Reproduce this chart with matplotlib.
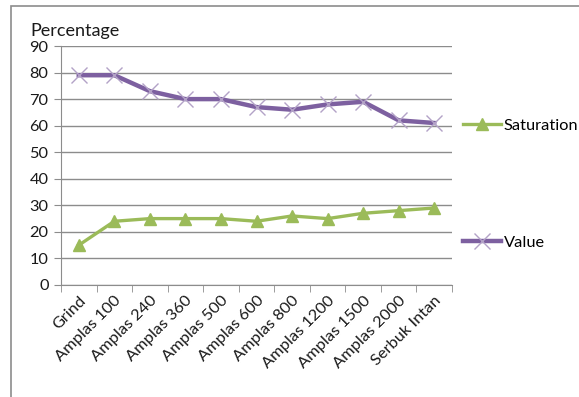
import numpy as np
import matplotlib.pyplot as plt
from matplotlib.patches import Rectangle
from matplotlib.ticker import MultipleLocator

plt.rcParams['font.family'] = ['Lato', 'DejaVu Sans']

# data
labels = ['Grind', 'Amplas 100', 'Amplas 240', 'Amplas 360', 'Amplas 500', 'Amplas 600',
          'Amplas 800', 'Amplas 1200', 'Amplas 1500', 'Amplas 2000', 'Serbuk Intan']
saturation = [15, 24, 25, 25, 25, 24, 26, 25, 27, 28, 29]
value = [79, 79, 73, 70, 70, 67, 66, 68, 69, 62, 61]

fig = plt.figure(figsize=(5.79, 3.97), dpi=100)
ax = fig.add_axes([61/579, 1-285/397, (452-61)/579, (285-46)/397])

# outer chart frame
fig.patches.append(Rectangle((11/579, -0.1), 1.2, 1-6/397+0.1, transform=fig.transFigure,
                             fill=False, edgecolor='#8c8c8c', lw=1.2))

x = np.arange(len(labels))
ax.plot(x, saturation, color='#9BBB59', lw=2.4, marker='^', ms=9,
        mfc='#9BBB59', mec='#9BBB59', label='Saturation', zorder=3)
ax.plot(x, value, color='#7D60A0', lw=3.2, marker='x', ms=11, mew=1.0,
        mec='#B3A2C7', label='Value', zorder=3)

ax.set_xlim(-0.5, len(labels) - 0.5)
ax.set_ylim(0, 90)
ax.yaxis.set_major_locator(MultipleLocator(10))
ax.grid(axis='y', color='#8c8c8c', lw=1)
ax.set_axisbelow(True)

for s in ['top', 'right']:
    ax.spines[s].set_visible(False)
for s in ['left', 'bottom']:
    ax.spines[s].set_color('#8c8c8c')

fs = 11.8
ax.set_xticks(x)
ax.set_xticklabels(labels, rotation=45, ha='right', rotation_mode='anchor', fontsize=fs,
                   color='#1a1a1a')
ax.tick_params(axis='x', which='major', length=0, pad=6)
ax.set_xticks(np.arange(-0.5, len(labels)), minor=True)
ax.tick_params(axis='x', which='minor', length=5, color='#8c8c8c', direction='out')
ax.tick_params(axis='y', length=5, color='#8c8c8c', labelsize=fs, labelcolor='#1a1a1a', pad=4)

fig.text(30/579, 1-31/397, 'Percentage', va='center', ha='left', fontsize=13, color='#1a1a1a')

fig.legend(loc='center left', bbox_to_anchor=(463/579, 1-184/397), frameon=False,
           fontsize=fs, labelspacing=6.25, handlelength=2.3, handletextpad=0.2,
           borderpad=0, borderaxespad=0)

fig.savefig('out.png', dpi=100)
